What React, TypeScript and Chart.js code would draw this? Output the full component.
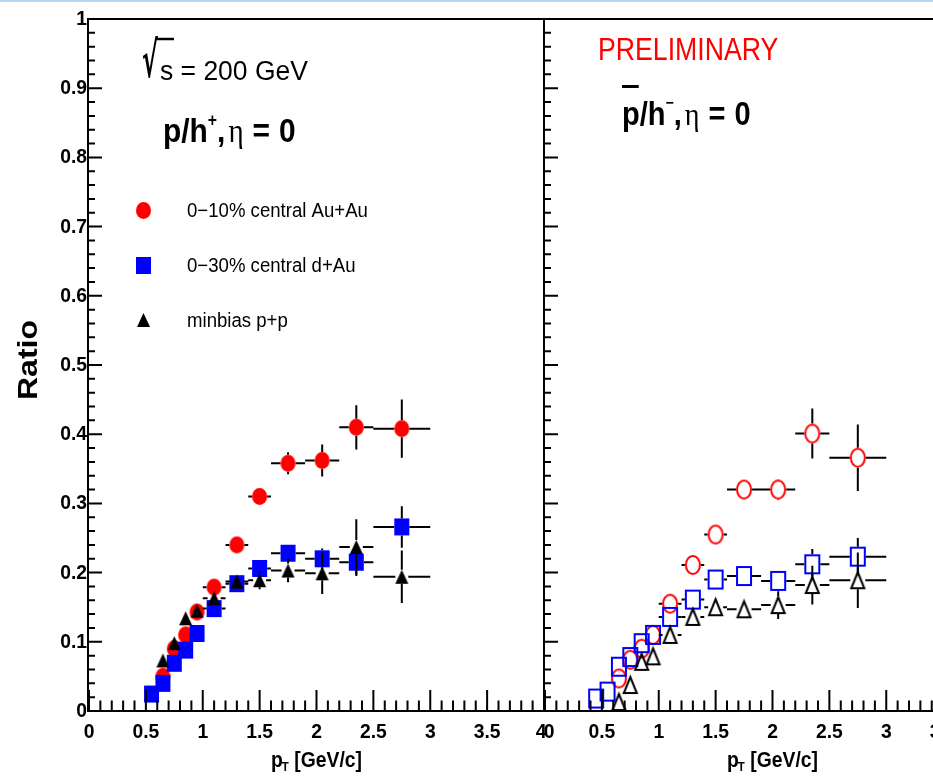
import { useEffect, useRef } from "react";
import { Chart, registerables } from "chart.js";

Chart.register(...registerables);

// ---------------- data ----------------
// pT bin centres and half widths (GeV/c)
const ptBins = [0.55, 0.65, 0.75, 0.85, 0.95, 1.1, 1.3, 1.5, 1.75, 2.05, 2.35, 2.75];
const ptHalfWidth = [0.05, 0.05, 0.05, 0.05, 0.05, 0.1, 0.1, 0.1, 0.15, 0.15, 0.15, 0.25];
const ptBinsAnti = [0.45, 0.55, 0.65, 0.75, 0.85, 0.95, 1.1, 1.3, 1.5, 1.75, 2.05, 2.35, 2.75];
const ptHalfWidthAnti = [0.05, 0.05, 0.05, 0.05, 0.05, 0.05, 0.1, 0.1, 0.1, 0.15, 0.15, 0.15, 0.25];

// p/h+ ratio
const protonAuAu = [null, 0.05, 0.09, 0.11, 0.143, 0.179, 0.24, 0.31, 0.358, 0.362, 0.41, 0.408];
const protonAuAuErr = [0, 0.005, 0.005, 0.005, 0.006, 0.008, 0.008, 0.01, 0.016, 0.023, 0.032, 0.042];
const protonDAu = [0.0245, 0.04, 0.069, 0.088, 0.112, 0.148, 0.184, 0.206, 0.228, 0.22, 0.215, 0.266];
const protonDAuErr = [0.004, 0.004, 0.004, 0.005, 0.005, 0.006, 0.007, 0.008, 0.01, 0.015, 0.02, 0.03];
const protonPP = [null, 0.073, 0.098, 0.134, 0.145, 0.163, 0.187, 0.189, 0.203, 0.199, 0.237, 0.194];
const protonPPErr = [0, 0.006, 0.006, 0.007, 0.007, 0.01, 0.01, 0.013, 0.017, 0.03, 0.04, 0.038];

// pbar/h- ratio
const antiAuAu = [null, null, 0.047, 0.074, 0.09, 0.11, 0.155, 0.211, 0.255, 0.32, 0.32, 0.401, 0.366];
const antiAuAuErr = [0, 0, 0.005, 0.005, 0.005, 0.006, 0.007, 0.008, 0.01, 0.011, 0.015, 0.036, 0.048];
const antiDAu = [0.018, 0.028, 0.064, 0.078, 0.098, 0.11, 0.136, 0.161, 0.19, 0.195, 0.188, 0.212, 0.223];
const antiDAuErr = [0.004, 0.004, 0.005, 0.005, 0.005, 0.006, 0.007, 0.008, 0.009, 0.01, 0.012, 0.022, 0.027];
const antiPP = [null, null, 0.013, 0.0375, 0.071, 0.079, 0.11, 0.136, 0.15, 0.147, 0.153, 0.182, 0.189];
const antiPPErr = [0, 0, 0.006, 0.006, 0.007, 0.007, 0.009, 0.01, 0.011, 0.012, 0.02, 0.028, 0.04];

const seriesLabels = ["0\u221210% central Au+Au", "0\u221230% central d+Au", "minbias p+p"];

const yTickValues = [0, 0.1, 0.2, 0.3, 0.4, 0.5, 0.6, 0.7, 0.8, 0.9, 1];
const yTickLabels = ["0", "0.1", "0.2", "0.3", "0.4", "0.5", "0.6", "0.7", "0.8", "0.9", "1"];
const xTickValues = [0, 0.5, 1, 1.5, 2, 2.5, 3, 3.5, 4];
const xTickLabels = ["0", "0.5", "1", "1.5", "2", "2.5", "3", "3.5", "4"];

// ---------------- drawing helpers ----------------
const SANS = '"Liberation Sans", Arial, Helvetica, sans-serif';
const SERIF = '"Liberation Serif", "DejaVu Serif", serif';
const DEJAVU = '"DejaVu Sans", sans-serif';

type MarkerSpec = { shape: "circle" | "square" | "triangle"; w: number; h: number; color: string; filled: boolean };
type Series = {
  label: string;
  x: number[];
  xe: number[];
  y: (number | null)[];
  ye: number[];
  marker: MarkerSpec;
  order: number;
};

function makeMarker(m: MarkerSpec): HTMLCanvasElement {
  const pad = 2;
  const c = document.createElement("canvas");
  c.width = m.w + pad * 2;
  c.height = m.h + pad * 2;
  const g = c.getContext("2d")!;
  g.translate(pad, pad);
  const lw = 2;
  const ins = m.filled ? 0 : lw / 2;
  g.beginPath();
  if (m.shape === "circle") {
    g.ellipse(m.w / 2, m.h / 2, m.w / 2 - ins, m.h / 2 - ins, 0, 0, Math.PI * 2);
  } else if (m.shape === "square") {
    g.rect(ins, ins, m.w - 2 * ins, m.h - 2 * ins);
  } else {
    g.moveTo(m.w / 2, ins);
    g.lineTo(m.w - ins, m.h - ins);
    g.lineTo(ins, m.h - ins);
    g.closePath();
  }
  if (m.filled) {
    g.fillStyle = m.color;
    g.fill();
  } else {
    g.strokeStyle = m.color;
    g.lineWidth = lw;
    g.stroke();
  }
  return c;
}

type Run = { t: string; font: string; dy?: number; gap?: number };

function runsWidth(ctx: CanvasRenderingContext2D, runs: Run[], sx: number) {
  let w = 0;
  for (const r of runs) {
    ctx.font = r.font;
    w += ctx.measureText(r.t).width * sx + (r.gap || 0);
  }
  return w;
}

function drawRuns(ctx: CanvasRenderingContext2D, x: number, y: number, runs: Run[], sx: number, color = "#000") {
  let cx = x;
  const starts: number[] = [];
  for (const r of runs) {
    ctx.font = r.font;
    cx += r.gap || 0;
    starts.push(cx);
    const w = ctx.measureText(r.t).width * sx;
    ctx.save();
    ctx.fillStyle = color;
    ctx.textAlign = "left";
    ctx.textBaseline = "alphabetic";
    ctx.translate(cx, y + (r.dy || 0));
    ctx.scale(sx, 1);
    ctx.fillText(r.t, 0, 0);
    ctx.restore();
    cx += w;
  }
  return starts;
}

function drawText(
  ctx: CanvasRenderingContext2D,
  t: string,
  x: number,
  y: number,
  font: string,
  align: CanvasTextAlign,
  baseline: CanvasTextBaseline,
  sx = 1,
  color = "#000"
) {
  ctx.save();
  ctx.font = font;
  ctx.fillStyle = color;
  ctx.textAlign = align;
  ctx.textBaseline = baseline;
  ctx.translate(x, y);
  ctx.scale(sx, 1);
  ctx.fillText(t, 0, 0);
  ctx.restore();
}

// ---------------- panels ----------------
type PanelSpec = {
  canvasLeft: number;
  canvasWidth: number;
  padding: { left: number; right: number; top: number; bottom: number };
  series: Series[];
  showYLabels: boolean;
  legend: { mx: number; tx: number; ys: number[] };
  xLabelNudge: (i: number) => number;
  annotate: (ctx: CanvasRenderingContext2D) => void;
};

const TICK_FONT = `bold 21px ${SANS}`;
const TICK_SX = 0.92;

function makePlugin(spec: PanelSpec, markers: HTMLCanvasElement[]) {
  return {
    id: "rootFrame",
    beforeDatasetDraw(chart: any, args: any) {
      const s = spec.series[args.index];
      if (!s) return;
      const { ctx } = chart;
      const xs = chart.scales.x;
      const ys = chart.scales.y;
      const gw = s.marker.w / 2;
      const gh = s.marker.h / 2;
      ctx.save();
      ctx.strokeStyle = "#000";
      ctx.lineWidth = 2;
      ctx.beginPath();
      s.x.forEach((xv, i) => {
        const yv = s.y[i];
        if (yv == null) return;
        const px = xs.getPixelForValue(xv);
        const py = ys.getPixelForValue(yv);
        const top = ys.getPixelForValue(yv + s.ye[i]);
        const bot = ys.getPixelForValue(yv - s.ye[i]);
        const l = xs.getPixelForValue(xv - s.xe[i]);
        const r = xs.getPixelForValue(xv + s.xe[i]);
        if (top < py - gh) {
          ctx.moveTo(px, py - gh);
          ctx.lineTo(px, top);
        }
        if (bot > py + gh) {
          ctx.moveTo(px, py + gh);
          ctx.lineTo(px, bot);
        }
        if (l < px - gw) {
          ctx.moveTo(px - gw, py);
          ctx.lineTo(l, py);
        }
        if (r > px + gw) {
          ctx.moveTo(px + gw, py);
          ctx.lineTo(r, py);
        }
      });
      ctx.stroke();
      ctx.restore();
    },
    afterDraw(chart: any) {
      const { ctx, chartArea: a } = chart;
      const xs = chart.scales.x;
      const ys = chart.scales.y;
      ctx.save();
      ctx.strokeStyle = "#000";
      ctx.lineWidth = 2;
      ctx.lineCap = "butt";

      // frame: top edge, bottom axis, left axis, right edge
      const ax = a.left - 1;
      ctx.beginPath();
      ctx.moveTo(ax - 1, a.top);
      ctx.lineTo(a.right + 1, a.top);
      ctx.moveTo(ax - 1, a.bottom);
      ctx.lineTo(a.right + 1, a.bottom);
      ctx.moveTo(ax, a.top - 1);
      ctx.lineTo(ax, a.bottom + 1);
      ctx.moveTo(a.right, a.top - 1);
      ctx.lineTo(a.right, a.bottom + 1);
      ctx.stroke();

      // x ticks pointing into the frame
      ctx.beginPath();
      for (let k = 0; k <= 40; k++) {
        const px = xs.getPixelForValue(k / 10);
        const len = k % 5 === 0 ? 21 : 10.5;
        ctx.moveTo(px, a.bottom);
        ctx.lineTo(px, a.bottom - len);
      }
      // y ticks pointing into the frame
      for (let k = 0; k <= 50; k++) {
        const py = ys.getPixelForValue(k / 50);
        const len = k % 5 === 0 ? 14 : 7;
        ctx.moveTo(ax, py);
        ctx.lineTo(ax + len, py);
      }
      ctx.stroke();

      // tick labels
      xTickValues.forEach((v, i) => {
        drawText(ctx, xTickLabels[i], xs.getPixelForValue(v) + spec.xLabelNudge(i), 738, TICK_FONT, "center", "alphabetic", TICK_SX);
      });
      if (spec.showYLabels) {
        yTickValues.forEach((v, i) => {
          drawText(ctx, yTickLabels[i], ax - 1, ys.getPixelForValue(v) + 6, TICK_FONT, "right", "alphabetic", TICK_SX);
        });
      }

      // x axis title, centred on the panel
      const titleRuns: Run[] = [
        { t: "p", font: `bold 22px ${SANS}` },
        { t: "T", font: `bold 13px ${SANS}`, dy: 4, gap: -1 },
        { t: " [GeV/c]", font: `bold 22px ${SANS}` },
      ];
      const tw = runsWidth(ctx, titleRuns, 0.88);
      const cx = xs.getPixelForValue(2);
      drawRuns(ctx, cx - tw / 2, 767, titleRuns, 0.88);

      // legend
      spec.series.forEach((s, i) => {
        const img = markers[i];
        const my = spec.legend.ys[i];
        ctx.drawImage(img, Math.round(spec.legend.mx - img.width / 2), Math.round(my - img.height / 2));
        drawText(ctx, s.label, spec.legend.tx, my + 7, `20px ${SANS}`, "left", "alphabetic", 0.93);
      });

      ctx.restore();

      ctx.save();
      ctx.translate(-spec.canvasLeft, 0);
      spec.annotate(ctx);
      ctx.restore();
    },
  };
}

function buildConfig(spec: PanelSpec): any {
  const markers = spec.series.map((s) => makeMarker(s.marker));
  return {
    type: "scatter",
    data: {
      datasets: spec.series.map((s, i) => ({
        label: s.label,
        data: s.x
          .map((xv, j) => ({ x: xv, y: s.y[j] }))
          .filter((p) => p.y !== null),
        pointStyle: markers[i],
        pointRadius: 9,
        pointHoverRadius: 9,
        showLine: false,
        order: s.order,
      })),
    },
    options: {
      responsive: false,
      maintainAspectRatio: false,
      animation: false,
      devicePixelRatio: 1,
      events: [],
      layout: { padding: spec.padding },
      scales: {
        x: { type: "linear", min: 0, max: 4, display: false },
        y: { type: "linear", min: 0, max: 1, display: false },
      },
      plugins: {
        legend: { display: false },
        tooltip: { enabled: false },
      },
    },
    plugins: [makePlugin(spec, markers)],
  };
}

const leftPanel: PanelSpec = {
  canvasLeft: 0,
  canvasWidth: 600,
  padding: { left: 89, right: 56, top: 19, bottom: 68 },
  series: [
    {
      label: seriesLabels[0],
      x: ptBins,
      xe: ptHalfWidth,
      y: protonAuAu,
      ye: protonAuAuErr,
      marker: { shape: "circle", w: 15, h: 17, color: "#ff0000", filled: true },
      order: 3,
    },
    {
      label: seriesLabels[1],
      x: ptBins,
      xe: ptHalfWidth,
      y: protonDAu,
      ye: protonDAuErr,
      marker: { shape: "square", w: 15, h: 17, color: "#0000ff", filled: true },
      order: 2,
    },
    {
      label: seriesLabels[2],
      x: ptBins,
      xe: ptHalfWidth,
      y: protonPP,
      ye: protonPPErr,
      marker: { shape: "triangle", w: 13, h: 14, color: "#000000", filled: true },
      order: 1,
    },
  ],
  showYLabels: true,
  legend: { mx: 143, tx: 187, ys: [210, 265, 320] },
  xLabelNudge: (i) => (i === xTickValues.length - 1 ? -3 : 0),
  annotate: (ctx) => {
    // y axis title
    ctx.save();
    ctx.translate(37, 360);
    ctx.rotate(-Math.PI / 2);
    ctx.scale(1, 0.87);
    ctx.font = `bold 32px ${SANS}`;
    ctx.fillStyle = "#000";
    ctx.textAlign = "center";
    ctx.textBaseline = "alphabetic";
    ctx.fillText("Ratio", 0, 0);
    ctx.restore();

    // sqrt(s) = 200 GeV
    ctx.save();
    ctx.translate(142, 77);
    ctx.scale(0.85, 1.75);
    ctx.font = `bold 28px ${DEJAVU}`;
    ctx.fillStyle = "#000";
    ctx.fillText("\u221A", 0, 0);
    ctx.restore();
    ctx.save();
    ctx.strokeStyle = "#000";
    ctx.lineWidth = 2.5;
    ctx.beginPath();
    ctx.moveTo(156, 39);
    ctx.lineTo(174, 39);
    ctx.stroke();
    ctx.restore();
    drawText(ctx, "s = 200 GeV", 160, 80, `27px ${SANS}`, "left", "alphabetic", 0.98);

    // p/h+, eta = 0
    drawRuns(
      ctx,
      163,
      142,
      [
        { t: "p/h", font: `bold 34px ${SANS}` },
        { t: "+", font: `bold 18px ${SANS}`, dy: -16 },
        { t: ",", font: `bold 34px ${SANS}` },
        { t: "\u03B7", font: `33px ${SERIF}`, gap: 3 },
        { t: "=", font: `bold 34px ${SANS}`, gap: 9 },
        { t: "0", font: `bold 34px ${SANS}`, gap: 9 },
      ],
      0.88
    );
  },
};

const rightPanel: PanelSpec = {
  canvasLeft: 505,
  canvasWidth: 520,
  padding: { left: 40, right: 25, top: 19, bottom: 68 },
  series: [
    {
      label: seriesLabels[0],
      x: ptBinsAnti,
      xe: ptHalfWidthAnti,
      y: antiAuAu,
      ye: antiAuAuErr,
      marker: { shape: "circle", w: 16, h: 20, color: "#ff0000", filled: false },
      order: 3,
    },
    {
      label: seriesLabels[1],
      x: ptBinsAnti,
      xe: ptHalfWidthAnti,
      y: antiDAu,
      ye: antiDAuErr,
      marker: { shape: "square", w: 16, h: 20, color: "#0000ff", filled: false },
      order: 2,
    },
    {
      label: seriesLabels[2],
      x: ptBinsAnti,
      xe: ptHalfWidthAnti,
      y: antiPP,
      ye: antiPPErr,
      marker: { shape: "triangle", w: 15, h: 18, color: "#000000", filled: false },
      order: 1,
    },
  ],
  showYLabels: false,
  legend: { mx: 612, tx: 656, ys: [193, 250, 305] },
  xLabelNudge: (i) => (i === 0 ? 4 : 0),
  annotate: (ctx) => {
    drawText(ctx, "PRELIMINARY", 598, 60, `31px ${SANS}`, "left", "alphabetic", 0.86, "#ff0000");

    const starts = drawRuns(
      ctx,
      622,
      125,
      [
        { t: "p", font: `bold 33px ${SANS}` },
        { t: "/h", font: `bold 33px ${SANS}` },
        { t: "\u2212", font: `bold 16px ${SANS}`, dy: -17 },
        { t: ",", font: `bold 33px ${SANS}` },
        { t: "\u03B7", font: `32px ${SERIF}`, gap: 3 },
        { t: "=", font: `bold 33px ${SANS}`, gap: 9 },
        { t: "0", font: `bold 33px ${SANS}`, gap: 9 },
      ],
      0.88
    );
    // bar over the p
    ctx.save();
    ctx.fillStyle = "#000";
    ctx.fillRect(starts[0], 85, starts[1] - starts[0] - 1, 3);
    ctx.restore();
  },
};

function Panel({ spec }: { spec: PanelSpec }) {
  const ref = useRef<HTMLCanvasElement>(null);
  useEffect(() => {
    const chart = new Chart(ref.current!, buildConfig(spec));
    return () => chart.destroy();
  }, [spec]);
  return (
    <canvas
      ref={ref}
      width={spec.canvasWidth}
      height={779}
      style={{ position: "absolute", left: spec.canvasLeft, top: 0, width: spec.canvasWidth, height: 779 }}
    />
  );
}

export default function App() {
  return (
    <div
      style={{
        position: "fixed",
        left: 0,
        top: 0,
        width: 933,
        height: 779,
        overflow: "hidden",
        background: "#ffffff",
      }}
    >
      <Panel spec={leftPanel} />
      <Panel spec={rightPanel} />
      <div style={{ position: "absolute", left: 0, top: 0, width: 933, height: 2, background: "#b4d8f2" }} />
    </div>
  );
}
